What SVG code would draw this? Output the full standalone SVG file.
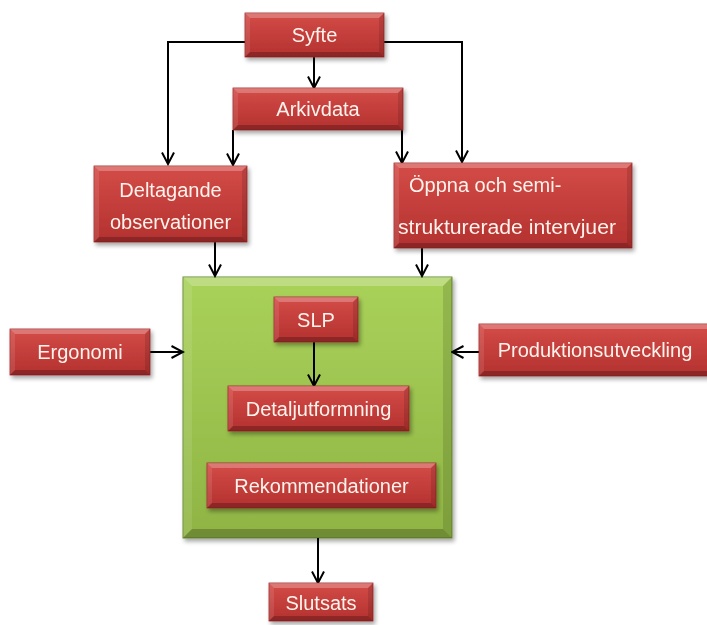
<svg xmlns="http://www.w3.org/2000/svg" width="707" height="625" viewBox="0 0 707 625">
  <defs>
    <linearGradient id="redFill" x1="0" y1="0" x2="0" y2="1">
      <stop offset="0" stop-color="#d44c48"/>
      <stop offset="1" stop-color="#b3312f"/>
    </linearGradient>
    <linearGradient id="greenFill" x1="0" y1="0" x2="0" y2="1">
      <stop offset="0" stop-color="#a9d25a"/>
      <stop offset="1" stop-color="#8fb444"/>
    </linearGradient>
    <filter id="shadow" x="-10%" y="-10%" width="125%" height="130%">
      <feDropShadow dx="2" dy="3" stdDeviation="2" flood-color="#000" flood-opacity="0.35"/>
    </filter>
    <marker id="arrow" viewBox="0 0 14 14" markerWidth="14" markerHeight="14" refX="12.5" refY="7" orient="auto" markerUnits="userSpaceOnUse">
      <path d="M1,1 L12.5,7 L1,13" fill="none" stroke="#000" stroke-width="2"/>
    </marker>
    <style>
      .red { fill: url(#redFill); stroke: #9c2a28; stroke-width: 0.8; }
      .green { fill: url(#greenFill); stroke: #6b8b36; stroke-width: 1; }
      .bt { fill: #ffffff; fill-opacity: 0.25; }
      .bl { fill: #ffffff; fill-opacity: 0.1; }
      .br { fill: #000000; fill-opacity: 0.12; }
      .bb { fill: #000000; fill-opacity: 0.22; }
      .node { filter: url(#shadow); }
      .lbl { font-family: "Liberation Sans", Arial, sans-serif; font-size: 20px; fill: #fdf3ec; text-anchor: middle; }
      .lblL { text-anchor: start; }
      .conn path { fill: none; stroke: #000; stroke-width: 2; marker-end: url(#arrow); }
    </style>
  </defs>

  <!-- central work package (drawn first so connectors sit on top of it) -->
  <g id="analys" class="node">
    <rect class="green" x="183" y="277" width="269" height="261"/>
    <path class="bt" d="M183,277 H452 L443,286 H192 Z"/>
    <path class="bl" d="M183,277 L192,286 V529 L183,538 Z"/>
    <path class="br" d="M452,277 V538 L443,529 V286 Z"/>
    <path class="bb" d="M183,538 H452 L443,529 H192 Z"/>
  </g>

  <!-- connectors -->
  <g id="connectors" class="conn">
    <path d="M245,42 H168 V164"/>
    <path d="M384,42 H462 V162"/>
    <path d="M314,57 V88"/>
    <path d="M233,130 V165"/>
    <path d="M402,130 V163"/>
    <path d="M215,242 V276"/>
    <path d="M422,248 V276"/>
    <path d="M150,352 H183"/>
    <path d="M479,352 H452"/>
    <path d="M314,342 V386"/>
    <path d="M318,538 V583"/>
  </g>

  <g id="syfte" class="node">
    <rect class="red" x="245" y="13" width="139" height="44"/>
    <path class="bt" d="M245,13 H384 L379,18 H250 Z"/>
    <path class="bl" d="M245,13 L250,18 V52 L245,57 Z"/>
    <path class="br" d="M384,13 V57 L379,52 V18 Z"/>
    <path class="bb" d="M245,57 H384 L379,52 H250 Z"/>
    <text class="lbl" x="314.5" y="42">Syfte</text>
  </g>

  <g id="arkivdata" class="node">
    <rect class="red" x="233" y="88" width="170" height="42"/>
    <path class="bt" d="M233,88 H403 L398,93 H238 Z"/>
    <path class="bl" d="M233,88 L238,93 V125 L233,130 Z"/>
    <path class="br" d="M403,88 V130 L398,125 V93 Z"/>
    <path class="bb" d="M233,130 H403 L398,125 H238 Z"/>
    <text class="lbl" x="318" y="116">Arkivdata</text>
  </g>

  <g id="deltagande" class="node">
    <rect class="red" x="94" y="166" width="153" height="76"/>
    <path class="bt" d="M94,166 H247 L242,171 H99 Z"/>
    <path class="bl" d="M94,166 L99,171 V237 L94,242 Z"/>
    <path class="br" d="M247,166 V242 L242,237 V171 Z"/>
    <path class="bb" d="M94,242 H247 L242,237 H99 Z"/>
    <text class="lbl" x="170.5" y="197">Deltagande</text>
    <text class="lbl" x="170.5" y="229">observationer</text>
  </g>

  <g id="intervjuer" class="node">
    <rect class="red" x="394" y="163" width="238" height="85"/>
    <path class="bt" d="M394,163 H632 L627,168 H399 Z"/>
    <path class="bl" d="M394,163 L399,168 V243 L394,248 Z"/>
    <path class="br" d="M632,163 V248 L627,243 V168 Z"/>
    <path class="bb" d="M394,248 H632 L627,243 H399 Z"/>
    <text class="lbl lblL" x="409" y="192">Öppna och semi-</text>
    <text class="lbl lblL" x="398" y="234" textLength="218" lengthAdjust="spacingAndGlyphs">strukturerade intervjuer</text>
  </g>

  <g id="ergonomi" class="node">
    <rect class="red" x="10" y="329" width="140" height="46"/>
    <path class="bt" d="M10,329 H150 L145,334 H15 Z"/>
    <path class="bl" d="M10,329 L15,334 V370 L10,375 Z"/>
    <path class="br" d="M150,329 V375 L145,370 V334 Z"/>
    <path class="bb" d="M10,375 H150 L145,370 H15 Z"/>
    <text class="lbl" x="80" y="359">Ergonomi</text>
  </g>

  <g id="produktionsutveckling" class="node">
    <rect class="red" x="479" y="324" width="240" height="52"/>
    <path class="bt" d="M479,324 H719 L714,329 H484 Z"/>
    <path class="bl" d="M479,324 L484,329 V371 L479,376 Z"/>
    <path class="bb" d="M479,376 H719 L714,371 H484 Z"/>
    <text class="lbl" x="595" y="357">Produktionsutveckling</text>
  </g>

  <g id="slp" class="node">
    <rect class="red" x="274" y="297" width="84" height="45"/>
    <path class="bt" d="M274,297 H358 L353,302 H279 Z"/>
    <path class="bl" d="M274,297 L279,302 V337 L274,342 Z"/>
    <path class="br" d="M358,297 V342 L353,337 V302 Z"/>
    <path class="bb" d="M274,342 H358 L353,337 H279 Z"/>
    <text class="lbl" x="316" y="327">SLP</text>
  </g>

  <g id="detaljutformning" class="node">
    <rect class="red" x="228" y="386" width="181" height="45"/>
    <path class="bt" d="M228,386 H409 L404,391 H233 Z"/>
    <path class="bl" d="M228,386 L233,391 V426 L228,431 Z"/>
    <path class="br" d="M409,386 V431 L404,426 V391 Z"/>
    <path class="bb" d="M228,431 H409 L404,426 H233 Z"/>
    <text class="lbl" x="318.5" y="416">Detaljutformning</text>
  </g>

  <g id="rekommendationer" class="node">
    <rect class="red" x="207" y="463" width="229" height="45"/>
    <path class="bt" d="M207,463 H436 L431,468 H212 Z"/>
    <path class="bl" d="M207,463 L212,468 V503 L207,508 Z"/>
    <path class="br" d="M436,463 V508 L431,503 V468 Z"/>
    <path class="bb" d="M207,508 H436 L431,503 H212 Z"/>
    <text class="lbl" x="321.5" y="493">Rekommendationer</text>
  </g>

  <g id="slutsats" class="node">
    <rect class="red" x="269" y="583" width="104" height="38"/>
    <path class="bt" d="M269,583 H373 L368,588 H274 Z"/>
    <path class="bl" d="M269,583 L274,588 V616 L269,621 Z"/>
    <path class="br" d="M373,583 V621 L368,616 V588 Z"/>
    <path class="bb" d="M269,621 H373 L368,616 H274 Z"/>
    <text class="lbl" x="321" y="610">Slutsats</text>
  </g>
</svg>
